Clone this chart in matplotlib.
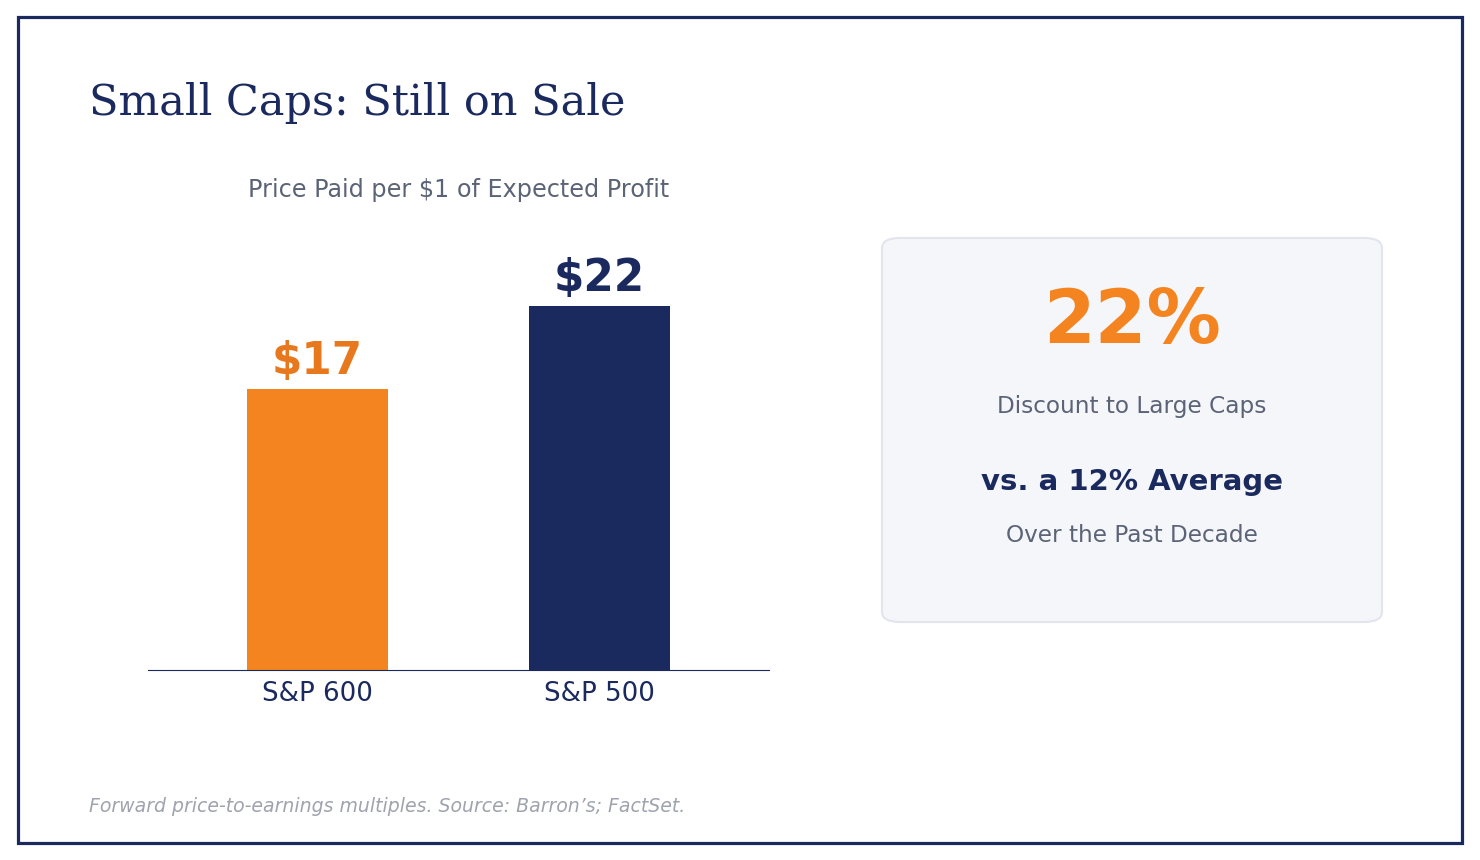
import matplotlib.pyplot as plt
from matplotlib.patches import Rectangle, FancyBboxPatch

# data
indices = ['S&P 600', 'S&P 500']
pe_values = [17, 22]
value_labels = ['$17', '$22']
discount_pct = '22%'

NAVY = '#1b2a5e'
ORANGE = '#f48420'
ORANGE_TXT = '#e8781e'
GRAY = '#5b6376'
LIGHTGRAY = '#9ea3ae'

fig = plt.figure(figsize=(14.8, 8.6), dpi=100)
W, H = 1480, 860

def fx(px):
    return px / W

def fy(py):
    return 1 - py / H

# outer border
fig.patches.append(Rectangle((fx(17.5), fy(842.5)), fx(1444), 826 / H,
                             transform=fig.transFigure, fill=False,
                             edgecolor=NAVY, linewidth=2.3))

fig.text(fx(89), fy(103), 'Small Caps: Still on Sale', family='DejaVu Serif',
         fontsize=31, color=NAVY, va='center', ha='left')

# bar chart
ax = fig.add_axes([fx(148), fy(670), fx(769 - 148), (670 - 215) / H])
ax.bar(range(len(indices)), pe_values, width=0.5, color=[ORANGE, NAVY])
ax.set_xlim(-0.6, 1.6)
ax.set_ylim(0, 27.5)
for i, (v, lab) in enumerate(zip(pe_values, value_labels)):
    ax.annotate(lab, (i, v), xytext=(0, 4), textcoords='offset points',
                ha='center', va='bottom', fontsize=31.5, fontweight='bold',
                color=ORANGE_TXT if i == 0 else NAVY)
ax.set_xticks(range(len(indices)))
ax.set_xticklabels(indices, fontsize=18.8, color=NAVY)
ax.tick_params(axis='x', length=0, pad=8)
ax.set_yticks([])
for s in ['top', 'right', 'left']:
    ax.spines[s].set_visible(False)
ax.spines['bottom'].set_color(NAVY)
ax.spines['bottom'].set_linewidth(0.8)
ax.set_title('Price Paid per $1 of Expected Profit', fontsize=17.2, color=GRAY, pad=13)

# callout card
card = FancyBboxPatch((fx(882), fy(622)), fx(500), (622 - 238) / H,
                      boxstyle='round,pad=0,rounding_size=0.012',
                      transform=fig.transFigure, facecolor='#f5f6fa',
                      edgecolor='#e2e5ee', linewidth=1.5)
fig.patches.append(card)
cx = fx(1132)
fig.text(cx, fy(322), discount_pct, fontsize=53.5, fontweight='bold', color=ORANGE,
         ha='center', va='center')
fig.text(cx, fy(406), 'Discount to Large Caps', fontsize=16.7, color=GRAY,
         ha='center', va='center')
fig.text(cx, fy(482), 'vs. a 12% Average', fontsize=21, fontweight='bold', color=NAVY,
         ha='center', va='center')
fig.text(cx, fy(535), 'Over the Past Decade', fontsize=16.7, color=GRAY,
         ha='center', va='center')

fig.text(fx(89), fy(806), 'Forward price-to-earnings multiples. Source: Barron\u2019s; FactSet.',
         fontsize=13.6, style='italic', color=LIGHTGRAY, ha='left', va='center')

fig.savefig('out.png', dpi=100, facecolor='white')
